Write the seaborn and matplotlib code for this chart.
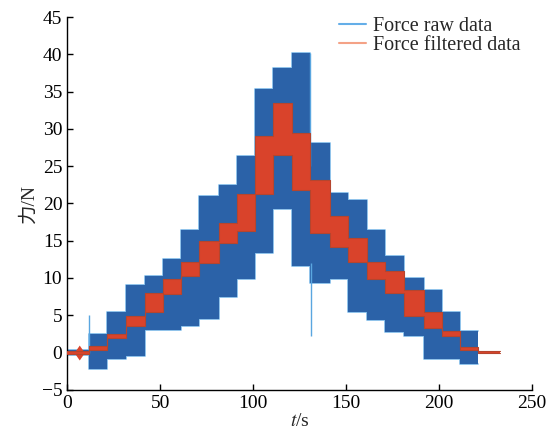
import numpy as np
import pandas as pd
import matplotlib.pyplot as plt
import seaborn as sns
from matplotlib.lines import Line2D

# step edges (s) and per-step levels
step_edges = [0, 11.7, 21.3, 31.4, 41.6, 51.4, 61.3, 71.1, 81.4, 91.2, 101.0, 110.9,
              120.8, 130.6, 141.4, 151.2, 161.1, 171.0, 180.8, 191.6, 201.4, 211.3,
              221.1, 232.8]
raw_low = [-0.3, -2.2, -0.9, -0.5, 3.0, 3.0, 3.5, 4.5, 7.5, 9.8, 13.4, 19.2,
           11.6, 9.3, 9.8, 5.4, 4.4, 2.7, 2.2, -0.9, -0.9, -1.6, np.nan]
raw_high = [0.3, 2.5, 5.5, 9.1, 10.2, 12.5, 16.5, 21.0, 22.5, 26.3, 35.3, 38.2,
            40.2, 28.1, 21.4, 20.5, 16.5, 12.9, 10.0, 8.4, 5.4, 2.9, np.nan]
filt_low = [-0.15, 0.3, 2.0, 3.5, 5.5, 7.8, 10.2, 12.0, 14.7, 16.3, 21.2, 26.5,
            21.8, 16.0, 14.2, 12.2, 9.8, 8.0, 4.9, 3.3, 2.2, 0.4, 0.0]
filt_high = [0.15, 0.85, 2.5, 4.9, 8.0, 9.8, 12.2, 14.9, 17.4, 21.2, 29.0, 33.5,
             29.5, 23.2, 18.3, 15.4, 12.2, 10.9, 8.4, 5.5, 2.9, 0.8, 0.2]

# isolated spikes in the raw signal
spike_t = [11.8, 130.4, 131.3]
spike_low = [0.0, 25.0, 2.2]
spike_high = [5.1, 40.2, 12.0]

# small transient in the filtered signal at the start
bump_t = [4.0, 6.5, 9.0]
bump_low = [-0.1, -1.0, -0.1]
bump_high = [0.1, 1.0, 0.1]

sns.set_theme(style="ticks")
plt.rcParams['font.family'] = ['Liberation Serif', 'Noto Sans CJK SC']
plt.rcParams['mathtext.fontset'] = 'stix'

# each step drawn as a flat segment from its start edge to its end edge
x_seg = np.column_stack([step_edges[:-1], step_edges[1:]]).ravel()
df = pd.DataFrame({
    "t": x_seg,
    "raw_low": np.repeat(raw_low, 2),
    "raw_high": np.repeat(raw_high, 2),
    "filt_low": np.repeat(filt_low, 2),
    "filt_high": np.repeat(filt_high, 2),
})
edges = df.melt(id_vars="t", value_vars=["filt_low", "filt_high"],
                var_name="edge", value_name="force")

fig = plt.figure(figsize=(5.55, 4.37), dpi=100)
ax = fig.add_axes([0.121, 0.108, 0.838, 0.853])

raw_dark = "#2b62a8"
raw_light = "#5aa6e0"
filt_red = "#d9432b"

ax.fill_between(df["t"], df["raw_low"], df["raw_high"], color=raw_dark, lw=0, zorder=2)
ax.plot(df["t"], df["raw_high"], color=raw_light, lw=1.2, alpha=0.8, zorder=1)
ax.plot(df["t"], df["raw_low"], color=raw_light, lw=1.2, alpha=0.8, zorder=1)
ax.vlines(spike_t, spike_low, spike_high, color=raw_light, lw=1.0, zorder=2)

ax.fill_between(df["t"], df["filt_low"], df["filt_high"], color=filt_red, lw=0, zorder=3)
ax.fill_between(bump_t, bump_low, bump_high, color=filt_red, lw=0, zorder=3)
sns.lineplot(data=edges, x="t", y="force", units="edge", estimator=None, sort=False,
             color="#b5452e", lw=0.8, ax=ax, zorder=4)

ax.set_xlim(0, 250)
ax.set_ylim(-5, 45)
ax.set_xticks(range(0, 251, 50))
ax.set_yticks(range(-5, 46, 5))
ax.tick_params(direction="in", length=4, width=1, labelsize=14, colors="black")
for s in ["top", "right"]:
    ax.spines[s].set_visible(False)
for s in ["left", "bottom"]:
    ax.spines[s].set_color("black")
    ax.spines[s].set_linewidth(1.0)

ax.set_xlabel(r"$t$/s", fontsize=14, labelpad=1)
ax.set_ylabel("力/N", fontsize=14, labelpad=3)

handles = [Line2D([], [], color="#64aee8", lw=1.5),
           Line2D([], [], color="#f4a286", lw=1.5)]
fig.legend(handles, ["Force raw data", "Force filtered data"], loc="upper left",
           bbox_to_anchor=(0.596, 0.98), frameon=False, fontsize=14.5,
           handlelength=1.35, handletextpad=0.35, labelspacing=0.0, borderaxespad=0)

fig.savefig("out.png", dpi=100)
